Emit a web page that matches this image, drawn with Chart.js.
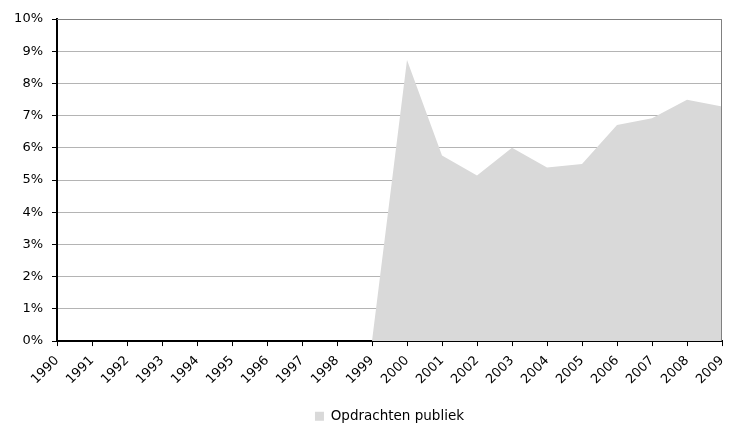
<!DOCTYPE html>
<html>
<head>
<meta charset="utf-8">
<script src="https://cdn.jsdelivr.net/npm/chart.js@4"></script>
<style>
  html, body { margin: 0; padding: 0; background: #fff; }
  #wrap { width: 737px; height: 424px; }
</style>
</head>
<body>
<div id="wrap"><canvas id="chart" width="737" height="424"></canvas></div>
<script>
// years on the x axis
const years = ['1990', '1991', '1992', '1993', '1994', '1995', '1996', '1997', '1998', '1999',
               '2000', '2001', '2002', '2003', '2004', '2005', '2006', '2007', '2008', '2009'];
// share in percent
const publiek = [0, 0, 0, 0, 0, 0, 0, 0, 0, 0,
                 8.73, 5.76, 5.14, 6.0, 5.39, 5.5, 6.71, 6.92, 7.49, 7.28];
const seriesLabel = 'Opdrachten publiek';
const yMax = 10;

const font = { family: '"DejaVu Sans", Verdana, sans-serif', size: 13 };

// gray frame on top and right of the plot area
const frame = {
    id: 'frame',
    afterDatasetsDraw(chart) {
        const a = chart.chartArea;
        const c = chart.ctx;
        c.save();
        c.strokeStyle = '#808080';
        c.lineWidth = 1;
        c.beginPath();
        c.moveTo(a.left, a.top + 0.5);
        c.lineTo(a.right - 0.5, a.top + 0.5);
        c.lineTo(a.right - 0.5, a.bottom);
        c.stroke();
        c.restore();
    }
};

new Chart(document.getElementById('chart').getContext('2d'), {
    type: 'line',
    data: {
        labels: years,
        datasets: [{
            label: seriesLabel,
            data: publiek,
            fill: 'origin',
            backgroundColor: '#d9d9d9',
            borderColor: '#d9d9d9',
            borderWidth: 0,
            pointRadius: 0,
            tension: 0
        }]
    },
    options: {
        responsive: false,
        animation: false,
        // legend sits low, so the bottom padding is negative on purpose
        layout: { padding: { left: 0, right: 6, top: 19, bottom: -9 } },
        plugins: {
            legend: {
                position: 'bottom',
                fullSize: false,
                labels: {
                    boxWidth: 9,
                    boxHeight: 9,
                    color: '#000',
                    font: { family: font.family, size: 13.5 },
                    padding: 15
                }
            },
            tooltip: { enabled: false }
        },
        scales: {
            x: {
                offset: false,
                grid: {
                    drawOnChartArea: false,
                    tickLength: 5,
                    tickColor: '#000'
                },
                border: { color: '#000', width: 2 },
                ticks: {
                    color: '#000',
                    font: font,
                    maxRotation: 45,
                    minRotation: 45,
                    autoSkip: false,
                    padding: 7
                },
                afterFit(scale) { scale.paddingRight = 15; }
            },
            y: {
                min: 0,
                max: yMax,
                grid: {
                    color: '#b4b4b4',
                    tickLength: 5,
                    tickColor: '#000'
                },
                border: { color: '#000', width: 2 },
                ticks: {
                    stepSize: 1,
                    color: '#000',
                    font: font,
                    padding: 9,
                    callback: v => v + '%'
                },
                afterFit(scale) { scale.width = 57; }
            }
        }
    },
    plugins: [frame]
});
</script>
</body>
</html>
